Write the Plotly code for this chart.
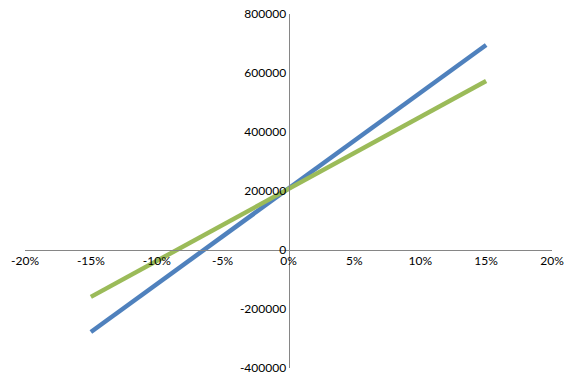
import plotly.graph_objects as go

x_vals = [-0.15, -0.10, -0.05, 0.0, 0.05, 0.10, 0.15]
blue_vals = [-278000, -116000, 46000, 208000, 370000, 533000, 695000]
green_vals = [-159000, -37000, 85000, 207000, 329000, 451000, 573000]

x_ticks = [-0.20, -0.15, -0.10, -0.05, 0.0, 0.05, 0.10, 0.15, 0.20]
x_ticklabels = ["-20%", "-15%", "-10%", "-5%", "0%", "5%", "10%", "15%", "20%"]
y_ticks = [-400000, -200000, 0, 200000, 400000, 600000, 800000]
y_ticklabels = ["-400000", "-200000", "0", "200000", "400000", "600000", "800000"]

fig = go.Figure()
fig.add_trace(go.Scatter(x=x_vals, y=blue_vals, mode="lines",
                         line=dict(color="#4F81BD", width=4.5), showlegend=False))
fig.add_trace(go.Scatter(x=x_vals, y=green_vals, mode="lines",
                         line=dict(color="#9BBB59", width=4.5), showlegend=False))

fig.update_layout(
    width=576, height=383,
    margin=dict(l=25, r=24, t=14, b=15),
    paper_bgcolor="white", plot_bgcolor="white",
    font=dict(family="Lato, Carlito, sans-serif", size=12, color="#000000"),
    xaxis=dict(range=[-0.20, 0.20], tickvals=x_ticks, ticktext=x_ticklabels,
               showgrid=False, zeroline=False, showline=True, linecolor="#868686",
               linewidth=1, anchor="free", position=1/3, ticks="", automargin=False),
    yaxis=dict(range=[-400000, 800000], tickvals=y_ticks, ticktext=y_ticklabels,
               showgrid=False, zeroline=False, showline=True, linecolor="#868686",
               linewidth=1, anchor="free", position=0.5, ticks="", automargin=False),
)
fig.write_html("out.html")
